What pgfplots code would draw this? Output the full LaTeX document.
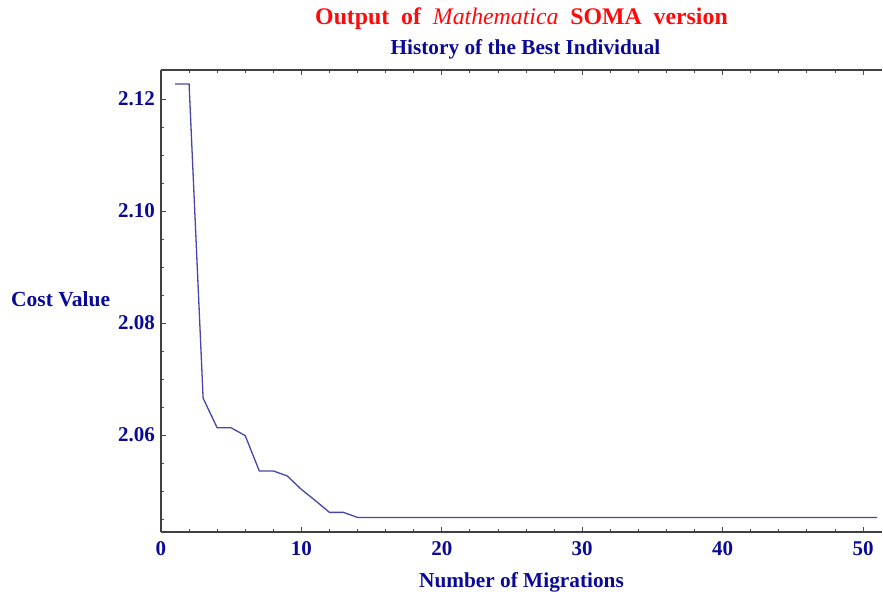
\documentclass[border=0pt]{standalone}
\usepackage{fontspec}
\setmainfont{Liberation Serif}
\usepackage{pgfplots}
\pgfplotsset{compat=1.18}
\definecolor{lab}{RGB}{10,10,150}
\definecolor{ln}{RGB}{70,70,170}
\definecolor{ttl}{RGB}{255,10,10}
\begin{document}
\begin{tikzpicture}
\begin{axis}[
  scale only axis, width=721pt, height=462pt,
  xmin=0, xmax=51.35, ymin=2.0427, ymax=2.1252,
  axis x line=box, axis y line=left,
  axis line style={-, draw=black!75, line width=1.1pt},
  xtick={0,10,20,30,40,50}, xticklabels={0,10,20,30,40,50},
  minor x tick num=4,
  ytick={2.06,2.08,2.10,2.12}, yticklabels={2.06,2.08,2.10,2.12},
  minor ytick={2.045,2.05,2.055,2.065,2.07,2.075,2.085,2.09,2.095,2.105,2.11,2.115},
  tick align=inside,
  major tick length=5pt, minor tick length=3pt,
  every tick/.style={draw=black!70, line width=0.8pt},
  /pgf/number format/assume math mode=true,
  every tick label/.append style={font=\fontsize{21}{23}\selectfont\bfseries, text=lab},
  xticklabel style={anchor=base, yshift=-24pt, inner sep=0pt},
  yticklabel style={anchor=east, xshift=-6pt, inner sep=0pt},
  xlabel={Number of Migrations},
  xlabel style={font=\fontsize{21.3}{23}\selectfont\bfseries, text=lab, at={(rel axis cs:0.5,0)}, anchor=base, yshift=-56pt, inner sep=0pt},
  ylabel={Cost Value},
  ylabel style={rotate=-90, font=\fontsize{21.5}{23}\selectfont\bfseries, text=lab, at={(rel axis cs:0,0.5)}, anchor=base west, xshift=-150pt, yshift=-6pt, inner sep=0pt},
  title={Output\ \ of\ \ {\mdseries\itshape Mathematica}\ \ SOMA\ \ version},
  title style={font=\fontsize{23.8}{26}\selectfont\bfseries, text=ttl, at={(rel axis cs:0.5,1)}, anchor=base, yshift=39pt, inner sep=0pt},
  clip=false,
]
\addplot[color=ln, line width=1.3pt] coordinates {
(1,2.1227) (2,2.1227) (3,2.0666) (4,2.0613) (5,2.0613) (6,2.0599) (7,2.0536) (8,2.0536) (9,2.0527) (10,2.0503) (11,2.0483) (12,2.0462) (13,2.0462) (14,2.0453)
(15,2.0453) (16,2.0453) (17,2.0453) (18,2.0453) (19,2.0453) (20,2.0453) (21,2.0453) (22,2.0453) (23,2.0453) (24,2.0453) (25,2.0453) (26,2.0453) (27,2.0453) (28,2.0453) (29,2.0453) (30,2.0453) (31,2.0453) (32,2.0453) (33,2.0453) (34,2.0453) (35,2.0453) (36,2.0453) (37,2.0453) (38,2.0453) (39,2.0453) (40,2.0453) (41,2.0453) (42,2.0453) (43,2.0453) (44,2.0453) (45,2.0453) (46,2.0453) (47,2.0453) (48,2.0453) (49,2.0453) (50,2.0453) (51,2.0453)
};
\node[font=\fontsize{21.3}{23}\selectfont\bfseries, text=lab, anchor=base, inner sep=0pt] at ([xshift=4pt,yshift=15pt]rel axis cs:0.5,1) {History of the Best Individual};
\coordinate (ll) at (rel axis cs:0,0);
\coordinate (ur) at (rel axis cs:1,1);
\end{axis}
\pgfresetboundingbox
\path[use as bounding box] ([xshift=-161pt,yshift=-60pt]ll) rectangle ([xshift=1pt,yshift=70pt]ur);
\end{tikzpicture}
\end{document}
